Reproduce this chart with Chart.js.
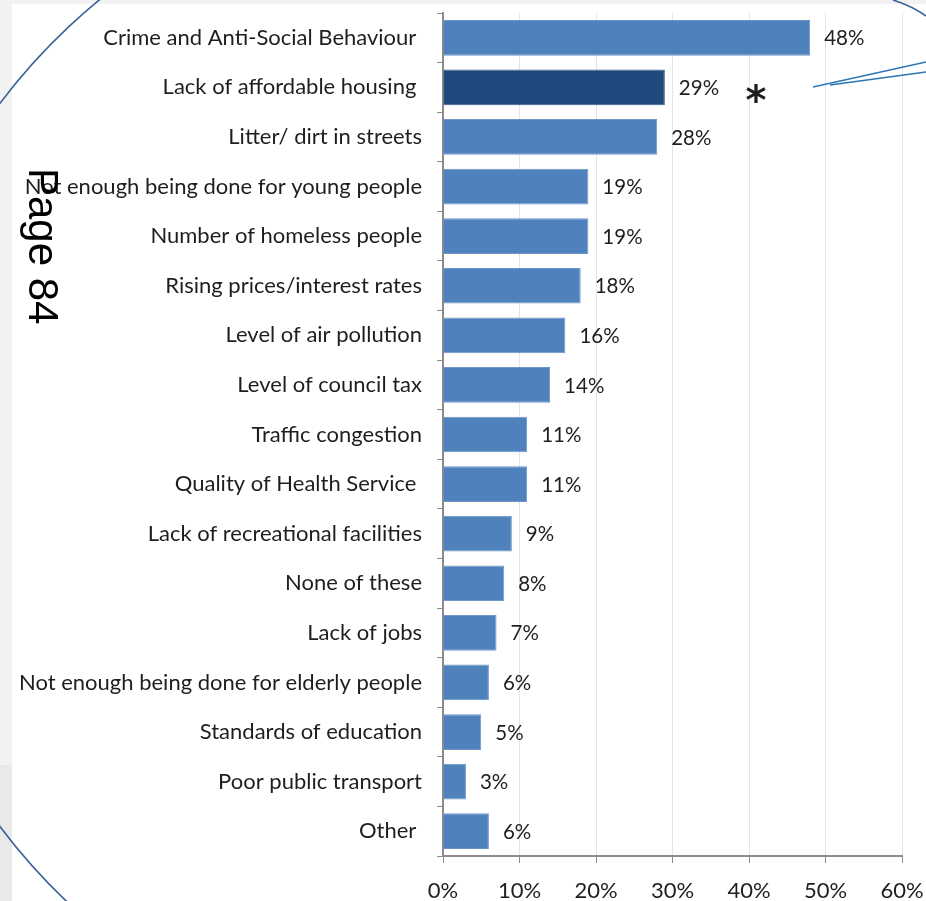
<!DOCTYPE html>
<html>
<head>
<meta charset="utf-8">
<script src="https://cdn.jsdelivr.net/npm/chart.js@4.4.1/dist/chart.umd.min.js"></script>
<style>
  html, body { margin: 0; padding: 0; background: #f2f2f2; }
  #wrap { position: relative; width: 926px; height: 901px; }
  canvas { display: block; }
</style>
</head>
<body>
<div id="wrap"><canvas id="issuesChart" width="926" height="901"></canvas></div>
<script>
// survey: which issues need improving most
const categories = [
    'Crime and Anti-Social Behaviour ',
    'Lack of affordable housing ',
    'Litter/ dirt in streets',
    'Not enough being done for young people',
    'Number of homeless people',
    'Rising prices/interest rates',
    'Level of air pollution',
    'Level of council tax',
    'Traffic congestion',
    'Quality of Health Service ',
    'Lack of recreational facilities',
    'None of these',
    'Lack of jobs',
    'Not enough being done for elderly people',
    'Standards of education',
    'Poor public transport',
    'Other '
];
const percentages = [48, 29, 28, 19, 19, 18, 16, 14, 11, 11, 9, 8, 7, 6, 5, 3, 6];
const highlighted = 'Lack of affordable housing ';
const axisMax = 60;
const axisStep = 10;
const pageLabel = 'Page 84';

const BLUE = '#4f81bd';
const DARK_BLUE = '#1f497d';
const AXIS_GREY = '#8c8c8c';
const FONT = 'Lato';

const barColours = categories.map(c => c === highlighted ? DARK_BLUE : BLUE);
const barEdges = categories.map(c => c === highlighted ? '#385d8a' : '#6f96c8');

// page background, the white sheet and the greyed margin
const sheetPlugin = {
    id: 'sheet',
    beforeDraw(chart) {
        const ctx = chart.ctx;
        ctx.save();
        ctx.fillStyle = '#f2f2f2';
        ctx.fillRect(0, 0, chart.width, chart.height);
        ctx.fillStyle = '#e9e9e9';
        ctx.fillRect(0, 765, 12, chart.height - 765);
        ctx.fillStyle = '#ffffff';
        ctx.fillRect(12, 4, chart.width - 12, chart.height - 4);
        ctx.restore();
    }
};

// percentage at the end of each bar, plus the asterisk on the highlighted one
const valueLabels = {
    id: 'valueLabels',
    afterDatasetsDraw(chart) {
        const ctx = chart.ctx;
        const meta = chart.getDatasetMeta(0);
        const xs = chart.scales.x;
        ctx.save();
        ctx.fillStyle = '#1e1e1e';
        meta.data.forEach((bar, i) => {
            const x = xs.getPixelForValue(percentages[i]) + 14;
            ctx.font = '20.5px ' + FONT;
            ctx.textAlign = 'left';
            ctx.textBaseline = 'middle';
            ctx.fillText(percentages[i] + '%', x, bar.y + 1);
            if (categories[i] === highlighted) {
                ctx.font = 'bold 40px "DejaVu Sans"';
                ctx.textAlign = 'center';
                ctx.textBaseline = 'alphabetic';
                ctx.fillText('*', x + 77, bar.y + 27);
            }
        });
        ctx.restore();
    }
};

// callout outline, pointer lines and the page number stamp
const overlay = {
    id: 'overlay',
    afterDraw(chart) {
        const ctx = chart.ctx;
        ctx.save();
        ctx.strokeStyle = '#3a639b';
        ctx.lineWidth = 1.6;
        ctx.beginPath();
        ctx.arc(480, 465, 601, Math.PI * 0.56, Math.PI * 1.46);
        ctx.stroke();
        ctx.beginPath();
        ctx.moveTo(893, 0);
        ctx.quadraticCurveTo(912, 6, 926, 16);
        ctx.stroke();

        ctx.strokeStyle = '#2e75b6';
        ctx.lineWidth = 1.5;
        ctx.beginPath();
        ctx.moveTo(813, 87);
        ctx.lineTo(926, 62);
        ctx.moveTo(830, 85);
        ctx.lineTo(926, 72);
        ctx.stroke();

        ctx.translate(29, 168);
        ctx.rotate(Math.PI / 2);
        ctx.fillStyle = '#000000';
        ctx.font = '42px "Liberation Sans"';
        ctx.textAlign = 'left';
        ctx.textBaseline = 'alphabetic';
        ctx.fillText(pageLabel, 0, 0);
        ctx.restore();
    }
};

new Chart(document.getElementById('issuesChart'), {
    type: 'bar',
    data: {
        labels: categories,
        datasets: [{
            data: percentages,
            backgroundColor: barColours,
            borderColor: barEdges,
            borderWidth: 1,
            categoryPercentage: 1,
            barPercentage: 0.72
        }]
    },
    options: {
        indexAxis: 'y',
        responsive: false,
        animation: false,
        devicePixelRatio: 1,
        layout: { padding: { top: 13, right: 24, bottom: 0, left: 0 } },
        plugins: {
            legend: { display: false },
            tooltip: { enabled: false }
        },
        scales: {
            x: {
                min: 0,
                max: axisMax,
                afterFit: s => {
                    s.height = 45;
                    s.paddingLeft = 0;
                    s.paddingRight = 0;
                },
                ticks: {
                    stepSize: axisStep,
                    maxRotation: 0,
                    padding: 15,
                    color: '#1e1e1e',
                    font: { family: FONT, size: 22 },
                    callback: v => v + '%'
                },
                grid: { color: '#e4e4e4', lineWidth: 1, tickColor: AXIS_GREY, tickLength: 7 },
                border: { color: AXIS_GREY, width: 2 }
            },
            y: {
                afterFit: s => {
                    s.width = 443;
                    s.paddingTop = 0;
                    s.paddingBottom = 0;
                },
                ticks: {
                    autoSkip: false,
                    padding: 15,
                    color: '#1e1e1e',
                    font: { family: FONT, size: 22 }
                },
                grid: { drawOnChartArea: false, color: AXIS_GREY, tickLength: 6 },
                border: { color: AXIS_GREY, width: 2 }
            }
        }
    },
    plugins: [sheetPlugin, valueLabels, overlay]
});
</script>
</body>
</html>
